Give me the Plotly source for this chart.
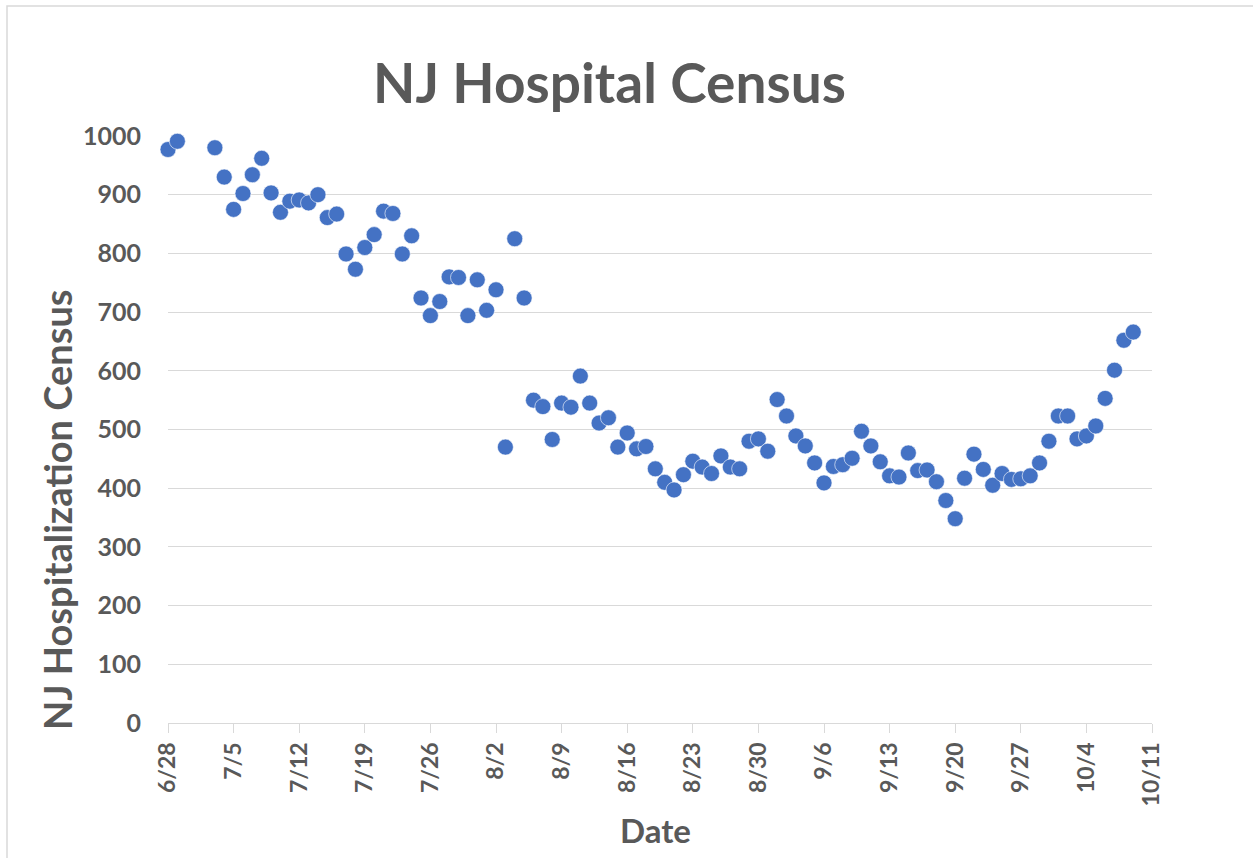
import plotly.graph_objects as go

dates = [
    "2020-06-28", "2020-06-29",
    "2020-07-03", "2020-07-04", "2020-07-05", "2020-07-06", "2020-07-07", "2020-07-08",
    "2020-07-09", "2020-07-10", "2020-07-11", "2020-07-12", "2020-07-13", "2020-07-14",
    "2020-07-15", "2020-07-16", "2020-07-17", "2020-07-18", "2020-07-19", "2020-07-20",
    "2020-07-21", "2020-07-22", "2020-07-23", "2020-07-24", "2020-07-25", "2020-07-26",
    "2020-07-27", "2020-07-28", "2020-07-29", "2020-07-30", "2020-07-31",
    "2020-08-01", "2020-08-02", "2020-08-03", "2020-08-04", "2020-08-05", "2020-08-06",
    "2020-08-07", "2020-08-08", "2020-08-09", "2020-08-10", "2020-08-11", "2020-08-12",
    "2020-08-13", "2020-08-14", "2020-08-15", "2020-08-16", "2020-08-17", "2020-08-18",
    "2020-08-19", "2020-08-20", "2020-08-21", "2020-08-22", "2020-08-23", "2020-08-24",
    "2020-08-25", "2020-08-26", "2020-08-27", "2020-08-28", "2020-08-29", "2020-08-30",
    "2020-08-31",
    "2020-09-01", "2020-09-02", "2020-09-03", "2020-09-04", "2020-09-05", "2020-09-06",
    "2020-09-07", "2020-09-08", "2020-09-09", "2020-09-10", "2020-09-11", "2020-09-12",
    "2020-09-13", "2020-09-14", "2020-09-15", "2020-09-16", "2020-09-17", "2020-09-18",
    "2020-09-19", "2020-09-20", "2020-09-21", "2020-09-22", "2020-09-23", "2020-09-24",
    "2020-09-25", "2020-09-26", "2020-09-27", "2020-09-28", "2020-09-29", "2020-09-30",
    "2020-10-01", "2020-10-02", "2020-10-03", "2020-10-04", "2020-10-05", "2020-10-06",
    "2020-10-07", "2020-10-08", "2020-10-09",
]

census = [
    977, 991,
    980, 930, 875, 902, 934, 962,
    903, 870, 889, 891, 886, 900,
    861, 867, 799, 773, 810, 832,
    872, 868, 799, 830, 724, 694,
    718, 760, 759, 694, 755,
    703, 738, 470, 825, 724, 550,
    539, 483, 545, 538, 591, 545,
    511, 520, 470, 494, 467, 471,
    433, 410, 397, 423, 446, 436,
    425, 455, 436, 433, 480, 484,
    463,
    551, 523, 489, 472, 443, 409,
    437, 440, 451, 497, 472, 445,
    421, 419, 460, 430, 431, 411,
    379, 348, 417, 458, 432, 405,
    425, 415, 416, 421, 443, 480,
    523, 523, 484, 489, 506, 553,
    601, 652, 666,
]

x_range = ["2020-06-28", "2020-10-11"]
y_ticks = [0, 100, 200, 300, 400, 500, 600, 700, 800, 900, 1000]

title_text = "NJ Hospital Census"
y_title = "NJ Hospitalization Census"
x_title = "Date"

TXT = "#595959"
GRID = "#d9d9d9"
FONT = "Lato, 'Open Sans', sans-serif"

W, H = 1253, 858
L, R, T, B = 168, 101, 136, 135

fig = go.Figure()
fig.add_trace(go.Scatter(
    x=dates, y=census, mode="markers",
    marker=dict(color="#4472C4", size=16, line=dict(color="white", width=0.6)),
    showlegend=False, hoverinfo="x+y", cliponaxis=False,
))

pw = W - L - R
ph = H - T - B

fig.update_layout(
    width=W, height=H,
    margin=dict(l=L, r=R, t=T, b=B, pad=0),
    paper_bgcolor="white", plot_bgcolor="white",
    font=dict(family=FONT, color=TXT),
    xaxis=dict(
        type="date", range=x_range, tick0="2020-06-28", dtick=7 * 86400000,
        tickformat="%-m/%-d", tickangle=-90,
        showgrid=False, showline=True, linecolor=GRID, linewidth=1.3,
        ticks="outside", ticklen=9, tickcolor=GRID, tickwidth=1.3,
        tickfont=dict(size=23, color=TXT, family=FONT, weight="bold"),
        zeroline=False,
    ),
    yaxis=dict(
        range=[0, 1000], tickvals=y_ticks, showgrid=True, gridcolor=GRID, gridwidth=1.3,
        showline=False, zeroline=False, ticks="",
        tickfont=dict(size=25, color=TXT, family=FONT, weight="bold"),
        ticklabelstandoff=26,
    ),
    annotations=[
        dict(text=title_text, xref="paper", yref="paper",
             x=(609 - L) / pw, y=(H - B - 82) / ph, xanchor="center", yanchor="middle",
             showarrow=False, font=dict(size=55, color=TXT, family=FONT, weight="bold")),
        dict(text=y_title, xref="paper", yref="paper", textangle=-90,
             x=(57 - L) / pw, y=(H - B - 510) / ph, xanchor="center", yanchor="middle",
             showarrow=False, font=dict(size=38, color=TXT, family=FONT, weight="bold")),
        dict(text=x_title, xref="paper", yref="paper",
             x=(655 - L) / pw, y=(H - B - 830) / ph, xanchor="center", yanchor="middle",
             showarrow=False, font=dict(size=33, color=TXT, family=FONT, weight="bold")),
    ],
    shapes=[
        dict(type="rect", xref="paper", yref="paper",
             x0=(7 - L) / pw, x1=(1300 - L) / pw,
             y0=(H - B - 900) / ph, y1=(H - B - 6) / ph,
             line=dict(color=GRID, width=1.5), fillcolor="rgba(0,0,0,0)", layer="below"),
    ],
)

fig.write_html(
    "out.html",
    config={"displayModeBar": False},
    post_script="document.body.style.margin='0';document.body.style.overflow='hidden';",
)
